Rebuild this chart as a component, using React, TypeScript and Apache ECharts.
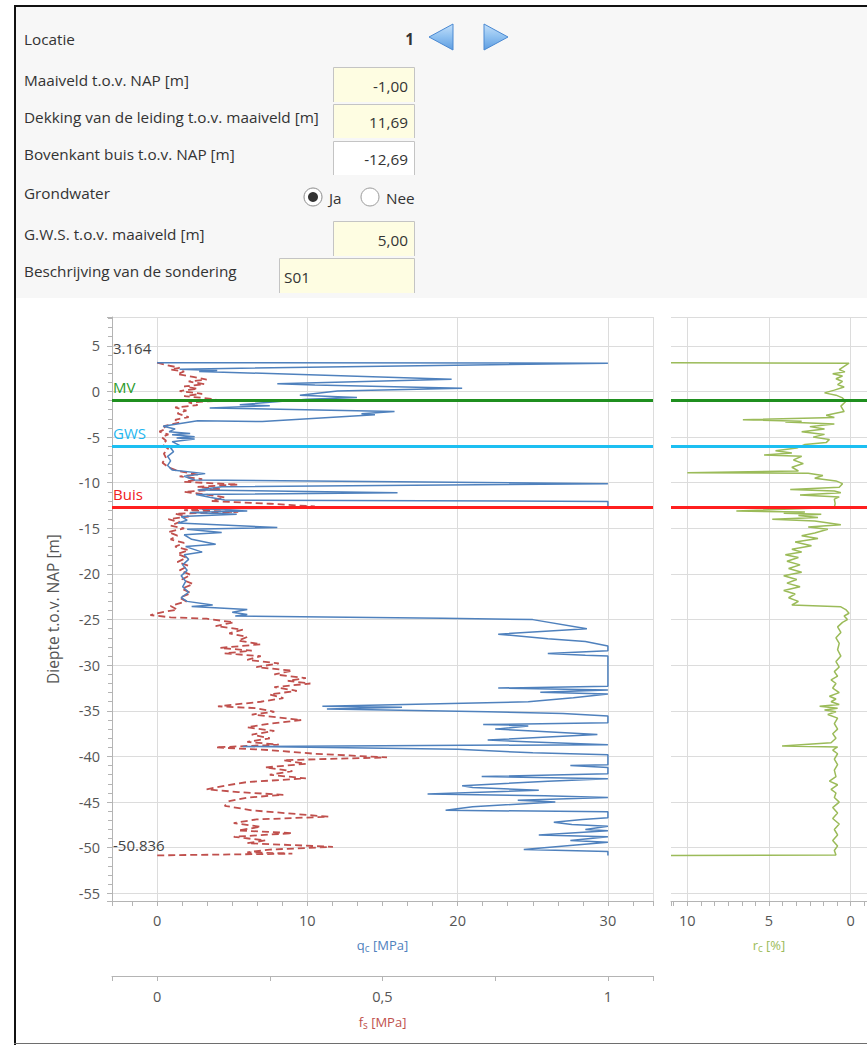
import React, { useEffect, useRef } from "react";
import * as echarts from "echarts";

// Sondering S01 – location 1
const depthTop = 3.164;
const depthBottom = -50.836;
const maaiveld = -1.0; // t.o.v. NAP
const dekking = 11.69; // t.o.v. maaiveld
const gwsBelowMaaiveld = 5.0;
const bovenkantBuis = maaiveld - dekking;
const gwsLevel = maaiveld - gwsBelowMaaiveld;
const sonderingName = "S01";
const locationIndex = 1;

// cone resistance qc [MPa] vs depth [m NAP]
const qcTrace: [number, number][] = [
  [0.0, 3.164], [30.0, 3.1], [1.5, 2.45], [4.0, 2.3], [2.8, 2.2], [19.6, 1.35], [8.0, 0.85],
  [10.5, 0.7], [20.3, 0.35], [12.0, 0.05], [9.5, -0.4], [13.3, -0.65], [10.0, -0.85],
  [5.5, -1.45], [7.5, -1.55], [3.5, -1.8], [15.8, -2.2], [13.6, -2.45], [14.5, -2.55],
  [7.0, -3.3], [2.7, -3.2], [0.4, -3.8], [1.2, -4.1], [0.8, -4.4], [2.2, -4.6], [1.0, -4.75],
  [2.5, -4.95], [1.3, -5.1], [2.5, -5.2], [1.0, -5.5], [1.5, -5.9], [0.9, -6.2], [1.1, -6.6],
  [0.7, -7.1], [0.9, -7.6], [0.7, -8.1], [1.0, -8.6], [3.2, -9.0], [1.8, -9.3], [2.5, -9.7],
  [30.0, -10.1], [4.3, -10.45], [2.7, -10.8], [16.0, -11.1], [2.6, -11.3], [3.5, -11.6],
  [4.5, -11.9], [30.0, -12.05], [30.0, -12.6], [2.8, -12.85], [6.0, -13.1], [2.2, -13.25],
  [5.3, -13.45], [1.6, -13.7], [2.0, -14.1], [1.4, -14.4], [8.0, -14.9], [2.0, -15.1],
  [4.3, -15.45], [1.8, -15.7], [2.3, -16.2], [3.9, -16.75], [1.9, -17.0], [3.0, -17.6],
  [1.8, -17.9], [2.1, -18.4], [1.7, -19.0], [2.0, -19.6], [1.6, -20.2], [1.9, -20.8],
  [1.7, -21.4], [2.1, -22.0], [1.6, -22.6], [2.0, -23.0], [3.7, -23.4], [2.3, -23.55],
  [6.0, -23.9], [5.0, -24.2], [6.0, -24.45], [5.2, -24.6], [19.0, -24.85], [25.0, -25.0],
  [28.6, -26.0], [22.7, -26.6], [26.0, -27.1], [28.5, -27.4], [30.0, -27.9], [30.0, -28.4],
  [26.0, -28.7], [28.5, -28.9], [30.0, -29.0], [30.0, -32.3], [22.7, -32.5], [30.0, -32.7],
  [25.5, -32.95], [30.0, -33.15], [27.7, -33.55], [24.7, -34.0], [11.0, -34.5], [16.3, -34.6],
  [11.3, -34.8], [22.0, -35.1], [27.0, -35.3], [30.0, -35.55], [30.0, -36.3], [21.7, -36.5],
  [24.7, -36.65], [22.5, -37.0], [25.0, -37.2], [29.3, -37.6], [22.0, -38.2], [25.0, -38.4],
  [30.0, -38.7], [5.7, -38.9], [20.0, -39.2], [25.0, -39.6], [30.0, -39.8], [30.0, -40.9],
  [27.5, -41.0], [30.0, -41.2], [30.0, -41.9], [21.6, -42.2], [30.0, -42.45], [26.0, -42.7],
  [20.3, -43.2], [21.0, -43.4], [25.4, -43.7], [18.0, -44.1], [25.8, -44.3], [30.0, -44.5],
  [24.0, -44.8], [26.5, -45.0], [21.0, -45.5], [19.2, -45.9], [30.0, -46.05], [30.0, -46.7],
  [28.3, -46.9], [26.4, -47.2], [27.6, -47.45], [30.0, -47.65], [28.5, -48.0], [30.0, -48.15],
  [25.4, -48.6], [30.0, -48.8], [27.5, -49.2], [30.0, -49.4], [24.4, -50.2], [30.0, -50.4],
  [30.0, -50.836],
];

// sleeve friction fs [MPa] vs depth [m NAP]
const fsTrace: [number, number][] = [
  [0.0, 3.164], [0.02, 2.9], [0.05, 2.6], [0.03, 2.4], [0.06, 2.2], [0.045, 1.9], [0.08, 1.6],
  [0.11, 1.3], [0.07, 1.1], [0.105, 0.8], [0.06, 0.55], [0.09, 0.3], [0.05, 0.05], [0.1, -0.25],
  [0.06, -0.5], [0.12, -0.8], [0.14, -1.0], [0.07, -1.2], [0.09, -1.5], [0.04, -1.75],
  [0.065, -2.1], [0.045, -2.4], [0.07, -2.8], [0.04, -3.1], [0.05, -3.4], [0.015, -3.8],
  [0.02, -4.1], [0.005, -4.4], [0.025, -4.7], [0.01, -5.0], [0.02, -5.4], [0.012, -5.8],
  [0.025, -6.3], [0.015, -6.8], [0.02, -7.3], [0.012, -7.8], [0.025, -8.3], [0.045, -8.7],
  [0.09, -9.1], [0.05, -9.3], [0.1, -9.6], [0.06, -9.9], [0.18, -10.2], [0.09, -10.45],
  [0.14, -10.7], [0.06, -11.0], [0.11, -11.3], [0.15, -11.6], [0.12, -12.0], [0.25, -12.3],
  [0.35, -12.6], [0.16, -12.8], [0.06, -13.0], [0.18, -13.2], [0.04, -13.4], [0.07, -13.7],
  [0.025, -14.0], [0.05, -14.3], [0.03, -14.7], [0.06, -15.0], [0.025, -15.4], [0.045, -15.8],
  [0.03, -16.2], [0.06, -16.6], [0.04, -17.0], [0.07, -17.4], [0.045, -17.8], [0.065, -18.2],
  [0.045, -18.7], [0.07, -19.1], [0.05, -19.6], [0.075, -20.1], [0.055, -20.6], [0.08, -21.1],
  [0.055, -21.6], [0.075, -22.1], [0.05, -22.6], [0.065, -23.0], [0.03, -23.5], [0.045, -23.9],
  [0.01, -24.2], [-0.015, -24.5], [0.03, -24.75], [0.11, -24.9], [0.17, -25.3], [0.13, -25.7],
  [0.19, -26.1], [0.16, -26.5], [0.2, -26.9], [0.18, -27.3], [0.23, -27.7], [0.14, -28.1],
  [0.21, -28.4], [0.15, -28.7], [0.23, -29.0], [0.2, -29.4], [0.27, -29.8], [0.22, -30.2],
  [0.3, -30.6], [0.26, -31.0], [0.33, -31.4], [0.29, -31.7], [0.34, -32.0], [0.26, -32.4],
  [0.31, -32.8], [0.25, -33.2], [0.28, -33.6], [0.23, -34.0], [0.135, -34.5], [0.22, -34.7],
  [0.26, -35.1], [0.21, -35.4], [0.32, -36.0], [0.25, -36.4], [0.2, -36.8], [0.26, -37.2],
  [0.21, -37.6], [0.25, -38.0], [0.2, -38.4], [0.27, -38.7], [0.13, -39.0], [0.25, -39.3],
  [0.35, -39.7], [0.51, -40.1], [0.28, -40.4], [0.33, -40.8], [0.24, -41.2], [0.3, -41.6],
  [0.25, -42.0], [0.33, -42.4], [0.2, -42.8], [0.15, -43.2], [0.11, -43.6], [0.18, -43.9],
  [0.28, -44.2], [0.2, -44.5], [0.16, -44.9], [0.15, -45.4], [0.21, -45.9], [0.38, -46.6],
  [0.22, -46.9], [0.17, -47.3], [0.23, -47.7], [0.18, -48.1], [0.3, -48.4], [0.17, -48.8],
  [0.24, -49.2], [0.2, -49.5], [0.39, -49.9], [0.25, -50.2], [0.2, -50.5], [0.3, -50.65],
  [0.0, -50.836],
];

// friction ratio rc [%] vs depth [m NAP]
const rcTrace: [number, number][] = [
  [11.0, 3.164], [0.1, 3.1], [0.4, 2.75], [0.7, 2.4], [0.35, 2.15], [1.1, 1.95], [0.5, 1.7],
  [0.9, 1.4], [0.5, 1.1], [0.8, 0.75], [0.4, 0.5], [1.0, 0.15], [1.6, -0.15], [0.9, -0.4],
  [0.5, -0.7], [0.3, -1.1], [0.6, -1.6], [0.4, -2.2], [1.5, -2.6], [1.0, -2.85], [6.6, -3.1],
  [3.0, -3.25], [4.0, -3.35], [1.0, -3.55], [2.5, -3.85], [1.6, -4.1], [3.0, -4.4], [1.6, -4.7],
  [2.3, -5.0], [1.3, -5.25], [1.5, -5.6], [2.8, -5.8], [3.3, -6.2], [4.6, -6.5], [3.6, -6.75],
  [5.3, -6.95], [3.0, -7.1], [3.5, -7.5], [2.9, -7.9], [3.6, -8.3], [3.2, -8.7], [10.0, -8.9],
  [2.6, -8.95], [1.7, -9.2], [2.2, -9.5], [0.9, -9.8], [0.5, -10.1], [0.7, -10.5], [3.7, -10.75],
  [1.0, -10.9], [0.6, -11.1], [3.1, -11.35], [0.7, -11.55], [1.0, -11.8], [0.95, -12.3],
  [1.0, -12.7], [7.0, -13.1], [2.8, -13.2], [4.1, -13.35], [1.8, -13.45], [3.2, -13.6],
  [2.0, -13.8], [4.8, -14.0], [2.2, -14.2], [0.6, -14.6], [2.6, -14.85], [1.4, -15.1],
  [2.2, -15.5], [3.0, -15.8], [2.0, -16.1], [3.4, -16.5], [2.4, -16.9], [3.6, -17.3],
  [3.0, -17.6], [4.0, -17.9], [3.2, -18.2], [3.9, -18.6], [3.1, -19.0], [3.8, -19.4],
  [3.0, -19.8], [4.1, -20.2], [3.3, -20.6], [3.9, -21.0], [3.1, -21.4], [4.1, -21.8],
  [3.4, -22.2], [3.8, -22.6], [3.2, -23.0], [3.6, -23.4], [0.6, -23.6], [0.3, -23.9],
  [0.1, -24.3], [0.4, -24.6], [0.2, -25.0], [0.5, -25.3], [0.8, -25.8], [0.6, -26.4],
  [0.9, -27.0], [0.7, -27.6], [0.8, -28.3], [0.6, -29.0], [0.9, -29.6], [0.7, -30.2],
  [1.0, -30.7], [0.8, -31.2], [1.2, -31.6], [0.9, -32.0], [1.1, -32.5], [0.7, -33.0],
  [1.3, -33.4], [0.9, -33.7], [1.2, -34.0], [0.7, -34.3], [1.9, -34.5], [0.8, -34.7],
  [1.6, -34.9], [0.9, -35.1], [1.4, -35.4], [0.8, -35.8], [1.0, -36.4], [0.8, -37.0],
  [1.1, -37.5], [0.9, -38.0], [1.2, -38.5], [4.2, -38.85], [0.8, -38.95], [1.1, -39.3],
  [0.8, -39.7], [1.0, -40.3], [0.8, -40.9], [1.0, -41.5], [0.9, -42.2], [1.3, -42.7],
  [0.8, -43.1], [1.2, -43.6], [0.9, -44.0], [1.0, -44.5], [0.7, -45.0], [1.1, -45.6],
  [0.8, -46.2], [1.1, -46.8], [0.7, -47.4], [1.0, -48.0], [0.8, -48.6], [1.1, -49.2],
  [0.8, -49.8], [1.0, -50.3], [0.9, -50.8], [11.0, -50.836],
];

const FONT = "'Open Sans', 'Noto Sans', sans-serif";
const FORM_FS = 15.3;
const TEXT = "#333333";
const AXIS_TEXT = "#555555";
const AXIS_LINE = "#b4b4b4";
const GRID_LINE = "#dcdcdc";
const BLUE = "#4F81BD";
const RED = "#C0504D";
const GREEN = "#9BBB59";
const MV_COLOR = "#1f8f1f";
const GWS_COLOR = "#1cbff2";
const BUIS_COLOR = "#ff1f1f";

const fmtComma = (v: number) => v.toFixed(2).replace(".", ",");

function txt(text: string, x: number, y: number, extra: any = {}) {
  return {
    type: "text",
    x,
    y,
    silent: true,
    style: {
      text,
      font: `${FORM_FS}px ${FONT}`,
      fill: TEXT,
      align: "left",
      verticalAlign: "middle",
      textAlign: "left",
      textVerticalAlign: "middle",
      ...extra,
    },
  };
}

function inputBox(x: number, y: number, w: number, h: number, fill: string) {
  return [
    { type: "rect", silent: true, shape: { x, y, width: w, height: h }, style: { fill } },
    {
      type: "polyline",
      silent: true,
      shape: { points: [[x + 0.5, y + h], [x + 0.5, y + 0.5], [x + w - 0.5, y + 0.5], [x + w - 0.5, y + h]] },
      style: { stroke: "#c4c4c4", lineWidth: 1, fill: "none" },
    },
  ];
}

function buildForm(): any[] {
  const arrowFill = new echarts.graphic.LinearGradient(0, 0, 0, 1, [
    { offset: 0, color: "#c4e0fa" },
    { offset: 0.5, color: "#8ec0f0" },
    { offset: 1, color: "#5f9de0" },
  ]);
  return [
    { type: "rect", silent: true, shape: { x: 16, y: 7, width: 851, height: 291 }, style: { fill: "#f7f7f7" } },
    { type: "rect", silent: true, shape: { x: 14, y: 5, width: 853, height: 2 }, style: { fill: "#111" } },
    { type: "rect", silent: true, shape: { x: 14, y: 5, width: 2, height: 1040 }, style: { fill: "#111" } },
    { type: "rect", silent: true, shape: { x: 14, y: 1043, width: 853, height: 1 }, style: { fill: "#6e6e6e" } },

    txt("Locatie", 24, 39),
    txt(String(locationIndex), 414, 39, { font: `bold ${FORM_FS}px ${FONT}`, align: "right", textAlign: "right" }),
    {
      type: "polygon",
      silent: true,
      shape: { points: [[429, 37], [453, 24], [453, 50]] },
      style: { fill: arrowFill, stroke: "#4a89d2", lineWidth: 1 },
    },
    {
      type: "polygon",
      silent: true,
      shape: { points: [[508, 37], [484, 24], [484, 50]] },
      style: { fill: arrowFill, stroke: "#4a89d2", lineWidth: 1 },
    },

    txt("Maaiveld t.o.v. NAP [m]", 24, 80),
    ...inputBox(333, 67, 82, 35, "#fefde2"),
    txt(fmtComma(maaiveld), 408, 86, { align: "right", textAlign: "right" }),

    txt("Dekking van de leiding t.o.v. maaiveld [m]", 24, 117),
    ...inputBox(333, 104, 82, 34, "#fefde2"),
    txt(fmtComma(dekking), 408, 122, { align: "right", textAlign: "right" }),

    txt("Bovenkant buis t.o.v. NAP [m]", 24, 154),
    ...inputBox(333, 141, 82, 34, "#ffffff"),
    txt(fmtComma(bovenkantBuis), 408, 159, { align: "right", textAlign: "right" }),

    txt("Grondwater", 24, 193),
    { type: "circle", silent: true, shape: { cx: 313, cy: 197, r: 9 }, style: { fill: "#ffffff", stroke: "#8a8a8a", lineWidth: 1 } },
    { type: "circle", silent: true, shape: { cx: 313, cy: 197, r: 5 }, style: { fill: "#333333" } },
    txt("Ja", 329, 198),
    { type: "circle", silent: true, shape: { cx: 370, cy: 197, r: 9 }, style: { fill: "#ffffff", stroke: "#9a9a9a", lineWidth: 1 } },
    txt("Nee", 386, 198),

    txt("G.W.S. t.o.v. maaiveld [m]", 24, 234),
    ...inputBox(333, 221, 82, 35, "#fefde2"),
    txt(fmtComma(gwsBelowMaaiveld), 408, 240, { align: "right", textAlign: "right" }),

    txt("Beschrijving van de sondering", 24, 271),
    ...inputBox(279, 258, 136, 35, "#fefde2"),
    txt(sonderingName, 284, 277),
  ];
}

const levelLine = (value: number, color: string, name: string | null, labelColor?: string) => ({
  yAxis: value,
  lineStyle: { color, width: 3, type: "solid" },
  label: name
    ? {
        show: true,
        formatter: name,
        position: "insideStartTop",
        distance: [1, 6],
        color: labelColor || color,
        fontSize: 15,
        fontFamily: FONT,
      }
    : { show: false },
});

const depthLabel = (value: number, gap: number) => ({
  yAxis: value,
  lineStyle: { color: "rgba(0,0,0,0)", width: 0 },
  label: {
    show: true,
    formatter: () => String(value),
    position: "insideStartTop",
    distance: [1, gap],
    color: "#444444",
    fontSize: 15,
    fontFamily: FONT,
  },
});

const commonAxis = {
  axisLine: { show: true, onZero: false, lineStyle: { color: AXIS_LINE, width: 1 } },
  axisTick: { show: true, length: 5, lineStyle: { color: AXIS_LINE } },
  axisLabel: { color: AXIS_TEXT, fontSize: 14.5, fontFamily: FONT, showMinLabel: false, showMaxLabel: false },
  splitLine: { show: true, lineStyle: { color: GRID_LINE, width: 1 } },
};

const subName = (main: string, sub: string, unit: string, color: string) => ({
  name: `{a|${main}}{s|${sub}}{a| ${unit}}`,
  nameTextStyle: {
    rich: {
      a: { fontSize: 13, color, fontFamily: FONT, lineHeight: 16 },
      s: { fontSize: 10, color, fontFamily: FONT, lineHeight: 16, verticalAlign: "bottom", padding: [6, 0, 0, 0] },
    },
  },
});

function buildOption(): any {
  const yBase = {
    type: "value",
    min: depthBottom - 5,
    max: depthTop + 5,
    splitNumber: 13,
  };
  return {
    animation: false,
    backgroundColor: "#ffffff",
    textStyle: { fontFamily: FONT },
    graphic: { elements: buildForm() },
    grid: [
      { left: 112, top: 317, width: 541, height: 584, containLabel: false },
      { left: 671, top: 317, width: 200, height: 584, containLabel: false },
    ],
    xAxis: [
      {
        ...commonAxis,
        type: "value",
        gridIndex: 0,
        min: -3,
        max: 33,
        splitNumber: 3,
        position: "bottom",
        axisLabel: { ...commonAxis.axisLabel, margin: 12 },
        minorTick: { show: true, splitNumber: 6, length: 5, lineStyle: { color: AXIS_LINE } },
        splitLine: { ...commonAxis.splitLine, showMinLine: false, showMaxLine: true },
        ...subName("q", "c", "[MPa]", BLUE),
        nameLocation: "middle",
        nameGap: 36,
      },
      {
        ...commonAxis,
        type: "value",
        gridIndex: 0,
        min: -0.1,
        max: 1.1,
        splitNumber: 2,
        position: "bottom",
        offset: 75,
        axisLabel: {
          ...commonAxis.axisLabel,
          margin: 13,
          formatter: (v: number) => String(v).replace(".", ","),
        },
        minorTick: { show: true, splitNumber: 2, length: 5, lineStyle: { color: AXIS_LINE } },
        splitLine: { show: false },
        ...subName("f", "s", "[MPa]", RED),
        nameLocation: "middle",
        nameGap: 38,
      },
      {
        ...commonAxis,
        type: "value",
        gridIndex: 1,
        min: -1,
        max: 11,
        inverse: true,
        splitNumber: 2,
        position: "bottom",
        axisLabel: { ...commonAxis.axisLabel, margin: 12 },
        minorTick: { show: true, splitNumber: 6, length: 5, lineStyle: { color: AXIS_LINE } },
        splitLine: { ...commonAxis.splitLine, showMinLine: false, showMaxLine: false },
        ...subName("r", "c", "[%]", GREEN),
        nameLocation: "middle",
        nameGap: 36,
      },
    ],
    yAxis: [
      {
        ...commonAxis,
        ...yBase,
        gridIndex: 0,
        axisLabel: { ...commonAxis.axisLabel, margin: 12 },
        axisTick: { show: true, length: 5, lineStyle: { color: AXIS_LINE } },
        minorTick: { show: true, splitNumber: 5, length: 4, lineStyle: { color: AXIS_LINE } },
        splitLine: { ...commonAxis.splitLine, showMinLine: false, showMaxLine: true },
        name: "Diepte t.o.v. NAP [m]",
        nameLocation: "middle",
        nameGap: 51,
        nameRotate: 90,
        nameTextStyle: { color: AXIS_TEXT, fontSize: 15.5, fontFamily: FONT },
      },
      {
        ...yBase,
        gridIndex: 1,
        axisLine: { show: false, onZero: false },
        axisTick: { show: false },
        axisLabel: { show: false },
        splitLine: { show: true, showMinLine: false, showMaxLine: true, lineStyle: { color: GRID_LINE, width: 1 } },
      },
    ],
    series: [
      {
        name: "fs",
        type: "line",
        xAxisIndex: 1,
        yAxisIndex: 0,
        data: fsTrace,
        showSymbol: false,
        symbol: "none",
        silent: true,
        z: 2,
        lineStyle: { color: RED, width: 1.8, type: [7, 4] },
      },
      {
        name: "qc",
        type: "line",
        xAxisIndex: 0,
        yAxisIndex: 0,
        data: qcTrace,
        showSymbol: false,
        symbol: "none",
        silent: true,
        z: 3,
        lineStyle: { color: BLUE, width: 1.5 },
        markLine: {
          silent: true,
          symbol: ["none", "none"],
          animation: false,
          data: [depthLabel(depthTop, 7), depthLabel(depthBottom, 3)],
        },
      },
      {
        name: "rc",
        type: "line",
        xAxisIndex: 2,
        yAxisIndex: 1,
        data: rcTrace,
        showSymbol: false,
        symbol: "none",
        silent: true,
        z: 3,
        lineStyle: { color: GREEN, width: 1.5 },
      },
      {
        name: "niveaus",
        type: "line",
        xAxisIndex: 0,
        yAxisIndex: 0,
        data: [],
        z: 5,
        silent: true,
        markLine: {
          silent: true,
          symbol: ["none", "none"],
          animation: false,
          data: [
            levelLine(maaiveld, MV_COLOR, "MV", "#2a9a2a"),
            levelLine(gwsLevel, GWS_COLOR, "GWS", "#1eb6f0"),
            levelLine(bovenkantBuis, BUIS_COLOR, "Buis", "#f02020"),
          ],
        },
      },
      {
        name: "niveaus-rc",
        type: "line",
        xAxisIndex: 2,
        yAxisIndex: 1,
        data: [],
        z: 5,
        silent: true,
        markLine: {
          silent: true,
          symbol: ["none", "none"],
          animation: false,
          data: [
            levelLine(maaiveld, MV_COLOR, null),
            levelLine(gwsLevel, GWS_COLOR, null),
            levelLine(bovenkantBuis, BUIS_COLOR, null),
          ],
        },
      },
    ],
  };
}

export default function App() {
  const ref = useRef<HTMLDivElement>(null);
  useEffect(() => {
    if (!ref.current) return;
    const chart = echarts.init(ref.current, null, { renderer: "svg" });
    chart.setOption(buildOption());
    return () => chart.dispose();
  }, []);
  return (
    <div
      ref={ref}
      style={{ position: "fixed", left: 0, top: 0, width: 867, height: 1045, background: "#ffffff" }}
    />
  );
}
